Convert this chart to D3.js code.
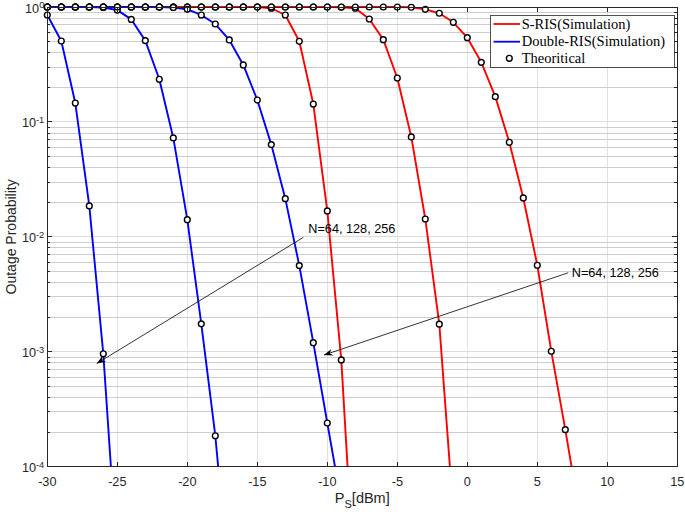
<!DOCTYPE html>
<html><head><meta charset="utf-8">
<script src="https://cdn.jsdelivr.net/npm/d3@7"></script>
<style>body{margin:0;background:#fff} svg{display:block}</style>
</head><body><svg id="c" width="685" height="514"></svg>
<script>
// ---------- data ----------
const xTicks = [-30,-25,-20,-15,-10,-5,0,5,10,15];
const yTicks = [1e0,1e-1,1e-2,1e-3,1e-4];
const yTickExp = ["0","-1","-2","-3","-4"];

// Double-RIS (blue) curves
const blue1X = [-30,-29,-28,-27,-26,-25];
const blue1Y = [0.852,0.506,0.146,0.0186,9.6e-4,1.5e-5];
const blue2X = [-30,-29,-28,-27,-26,-25,-24,-23,-22,-21,-20,-19,-18,-17];
const blue2Y = [1,1,1,1,0.99,0.94,0.78,0.51,0.235,0.0726,0.0141,1.75e-3,1.86e-4,9e-6];
const blue3X = [-30,-29,-28,-27,-26,-25,-24,-23,-22,-21,-20,-19,-18,-17,-16,-15,-14,-13,-12,-11,-10,-9];
const blue3Y = [1,1,1,1,1,1,1,1,1,0.99,0.955,0.852,0.711,0.517,0.313,0.155,0.0635,0.0215,0.00562,0.0012,2.4e-4,4.9e-5];

// S-RIS (red) curves
const red1X = [-30,-29,-28,-27,-26,-25,-24,-23,-22,-21,-20,-19,-18,-17,-16,-15,-14,-13,-12,-11,-10,-9,-8];
const red1Y = [1,1,1,1,1,1,1,1,1,1,1,1,1,1,1,1,0.975,0.852,0.503,0.143,0.0168,8.5e-4,7e-6];
const red2X = [-30,-29,-28,-27,-26,-25,-24,-23,-22,-21,-20,-19,-18,-17,-16,-15,-14,-13,-12,-11,-10,-9,-8,-7,-6,-5,-4,-3,-2,-1];
const red2Y = [1,1,1,1,1,1,1,1,1,1,1,1,1,1,1,1,1,1,1,1,1,0.995,0.975,0.786,0.52,0.241,0.074,0.0143,1.74e-3,4e-5];
const red3X = [-30,-29,-28,-27,-26,-25,-24,-23,-22,-21,-20,-19,-18,-17,-16,-15,-14,-13,-12,-11,-10,-9,-8,-7,-6,-5,-4,-3,-2,-1,0,1,2,3,4,5,6,7,8];
const red3Y = [1,1,1,1,1,1,1,1,1,1,1,1,1,1,1,1,1,1,1,1,1,1,1,1,1,1,0.995,0.955,0.882,0.736,0.541,0.330,0.166,0.0665,0.0218,0.00566,1.01e-3,2.1e-4,4e-5];

const legendLabels = ["S-RIS(Simulation)","Double-RIS(Simulation)","Theoritical"];
const annoText = "N=64, 128, 256";
// annotations in data coordinates: [textX, textY, fromX, fromY, toX, toY]
const anno1 = [-11.36, 0.0117, -11.71, 0.0099, -26.47, 7.9e-4];
const anno2 = [7.46, 0.0049, 7.21, 4.87e-3, -10.24, 9.36e-4];

// ---------- layout ----------
const W = 685, H = 514;
const L = 47.3, R = 677.3, T = 7, B = 466.7;
const axisColor = "#262626";
const font = "'Liberation Sans', Arial, sans-serif";
const fs = 12.7;

const svg = d3.select("#c");
const x = d3.scaleLinear().domain([-30,15]).range([L,R]);
const y = d3.scaleLog().domain([1e-4,1]).range([B,T]);

// grid
const minorVals = [];
[1e-4,1e-3,1e-2,1e-1].forEach(d => { for (let k=2;k<=9;k++) minorVals.push(d*k); });
const g = svg.append("g").attr("shape-rendering","crispEdges");
g.selectAll(".vg").data(xTicks).join("line")
  .attr("x1",d=>x(d)).attr("x2",d=>x(d)).attr("y1",T).attr("y2",B)
  .attr("stroke","#e2e2e2").attr("stroke-width",1);
g.selectAll(".mg").data(minorVals).join("line")
  .attr("x1",L).attr("x2",R).attr("y1",d=>y(d)).attr("y2",d=>y(d))
  .attr("stroke","#cdcdcd").attr("stroke-width",1);
g.selectAll(".hg").data(yTicks).join("line")
  .attr("x1",L).attr("x2",R).attr("y1",d=>y(d)).attr("y2",d=>y(d))
  .attr("stroke","#dcdcdc").attr("stroke-width",1);

// clip
svg.append("defs").append("clipPath").attr("id","clip")
  .append("rect").attr("x",L).attr("y",T-6).attr("width",R-L).attr("height",B-T+6);

const line = d3.line().x(d=>x(d[0])).y(d=>y(d[1]));
const zip = (xs,ys) => xs.map((v,i)=>[v,ys[i]]);
const reds = [zip(red1X,red1Y), zip(red2X,red2Y), zip(red3X,red3Y)];
const blues = [zip(blue1X,blue1Y), zip(blue2X,blue2Y), zip(blue3X,blue3Y)];

const lg = svg.append("g").attr("clip-path","url(#clip)");
reds.forEach(s => lg.append("path").attr("d",line(s)).attr("fill","none")
  .attr("stroke","#ff0000").attr("stroke-width",1.9).attr("stroke-linejoin","round"));
blues.forEach(s => lg.append("path").attr("d",line(s)).attr("fill","none")
  .attr("stroke","#0000ff").attr("stroke-width",1.9).attr("stroke-linejoin","round"));

// markers
const allPts = reds.concat(blues).flat().filter(d => d[1] >= 1e-4);
svg.append("g").selectAll("circle").data(allPts).join("circle")
  .attr("cx",d=>x(d[0])).attr("cy",d=>y(d[1])).attr("r",2.9)
  .attr("fill","#fff").attr("stroke","#000").attr("stroke-width",1.4);

// axes box + ticks
const ax = svg.append("g").attr("shape-rendering","crispEdges");
ax.append("rect").attr("x",L).attr("y",T).attr("width",R-L).attr("height",B-T)
  .attr("fill","none").attr("stroke",axisColor).attr("stroke-width",1);
xTicks.forEach(d => {
  ax.append("line").attr("x1",x(d)).attr("x2",x(d)).attr("y1",B).attr("y2",B-5).attr("stroke",axisColor);
  ax.append("line").attr("x1",x(d)).attr("x2",x(d)).attr("y1",T).attr("y2",T+5).attr("stroke",axisColor);
});
yTicks.forEach(d => {
  ax.append("line").attr("x1",L).attr("x2",L+5).attr("y1",y(d)).attr("y2",y(d)).attr("stroke",axisColor);
  ax.append("line").attr("x1",R).attr("x2",R-5).attr("y1",y(d)).attr("y2",y(d)).attr("stroke",axisColor);
});
minorVals.forEach(d => {
  ax.append("line").attr("x1",L).attr("x2",L+3).attr("y1",y(d)).attr("y2",y(d)).attr("stroke",axisColor);
  ax.append("line").attr("x1",R).attr("x2",R-3).attr("y1",y(d)).attr("y2",y(d)).attr("stroke",axisColor);
});

// tick labels
svg.append("g").selectAll("text").data(xTicks).join("text")
  .attr("x",d=>x(d)).attr("y",B+19).attr("text-anchor","middle")
  .attr("font-family",font).attr("font-size",fs).attr("fill",axisColor)
  .text(d=>d);
yTicks.forEach((d,i) => {
  const t = svg.append("text").attr("x",L-3).attr("y",y(d)+5.5)
    .attr("text-anchor","end").attr("font-family",font).attr("font-size",fs).attr("fill",axisColor);
  t.append("tspan").text("10");
  t.append("tspan").attr("dy",-4.5).attr("font-size",9.3).text(yTickExp[i]);
});

// axis labels
const xl = svg.append("text").attr("x",(L+R)/2).attr("y",503).attr("text-anchor","middle")
  .attr("font-family",font).attr("font-size",14.5).attr("fill",axisColor);
xl.append("tspan").text("P");
xl.append("tspan").attr("dy",5).attr("font-size",11).text("S");
xl.append("tspan").attr("dy",-5).text("[dBm]");
svg.append("text").attr("transform",`translate(15.5,${(T+B)/2}) rotate(-90)`)
  .attr("text-anchor","middle").attr("font-family",font).attr("font-size",14).attr("fill",axisColor)
  .text("Outage Probability");

// annotations
function arrow(a) {
  const [tx,ty,fx,fy,ex,ey] = a;
  const x1=x(fx), y1=y(fy), x2=x(ex), y2=y(ey);
  svg.append("line").attr("x1",x1).attr("y1",y1).attr("x2",x2).attr("y2",y2)
    .attr("stroke","#000").attr("stroke-width",0.8);
  const ang = Math.atan2(y2-y1, x2-x1);
  svg.append("path").attr("d","M0,0 L-9,-3.5 L-6,0 L-9,3.5 Z")
    .attr("transform",`translate(${x2},${y2}) rotate(${ang*180/Math.PI})`)
    .attr("fill","#000");
  svg.append("text").attr("x",x(tx)).attr("y",y(ty)).attr("dy","0.35em")
    .attr("font-family",font).attr("font-size",fs).attr("fill","#000").text(annoText);
}
arrow(anno1); arrow(anno2);

// legend
const legX = 490.7, legY = 15, legW = 183.6, legH = 52.3;
const leg = svg.append("g");
leg.append("rect").attr("x",legX).attr("y",legY).attr("width",legW).attr("height",legH)
  .attr("fill","#fff").attr("stroke",axisColor).attr("stroke-width",0.8).attr("shape-rendering","crispEdges");
const rowY = [24, 41.7, 58.3];
const rowColor = ["#ff0000","#0000ff",null];
legendLabels.forEach((lab,i) => {
  if (rowColor[i]) {
    leg.append("line").attr("x1",493.5).attr("x2",520).attr("y1",rowY[i]).attr("y2",rowY[i])
      .attr("stroke",rowColor[i]).attr("stroke-width",1.8);
  } else {
    leg.append("circle").attr("cx",509.3).attr("cy",rowY[i]).attr("r",2.9)
      .attr("fill","#fff").attr("stroke","#000").attr("stroke-width",1.4);
  }
  leg.append("text").attr("x",521.7).attr("y",rowY[i]).attr("dy","0.33em")
    .attr("font-family","'Liberation Serif','Times New Roman',serif").attr("font-size",14.5)
    .attr("fill","#000").text(lab);
});
</script></body></html>
